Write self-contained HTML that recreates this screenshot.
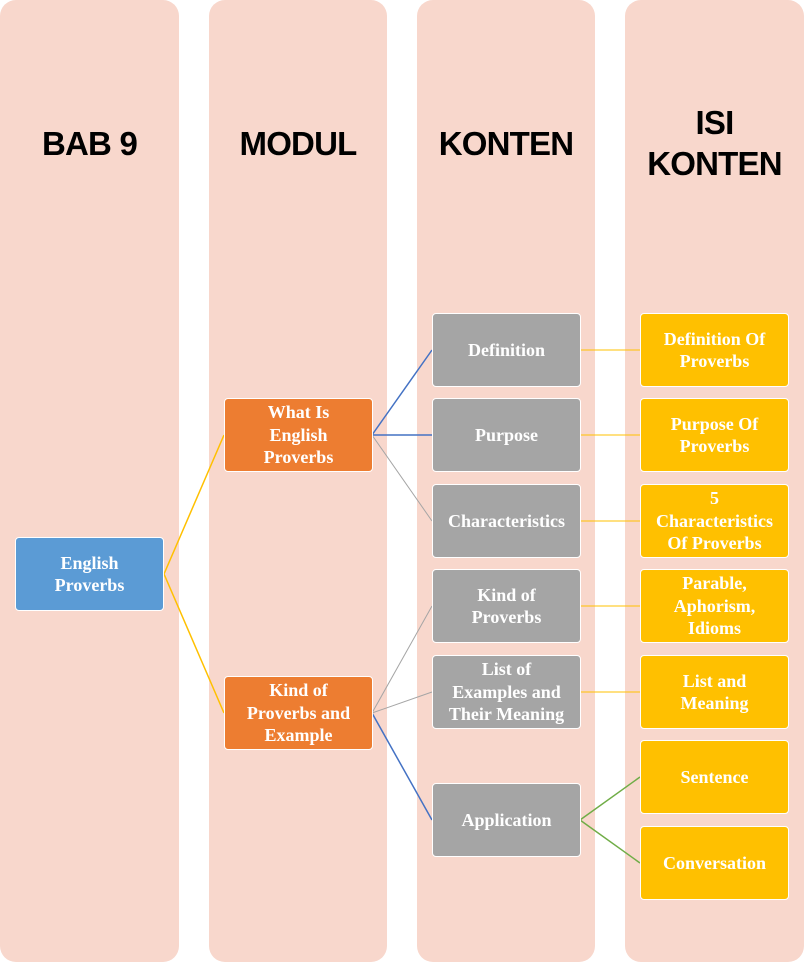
<!DOCTYPE html>
<html><head><meta charset="utf-8"><style>
body{margin:0;width:806px;height:962px;background:#fff;position:relative;overflow:hidden;font-family:"Liberation Serif",serif}
.col{position:absolute;top:0;height:962px;background:#f8d7cc;border-radius:16px}
.h{position:absolute;font-family:"Liberation Sans",sans-serif;font-weight:bold;font-size:33px;letter-spacing:-0.8px;color:#000;text-align:center;line-height:41px}
.b{position:absolute;box-sizing:border-box;border:1px solid #fff;border-radius:4px;color:#fff;font-weight:bold;font-size:18px;line-height:22.5px;display:flex;align-items:center;justify-content:center;text-align:center;width:149px;height:74px}
.bl{background:#5b9bd5}.or{background:#ed7d31}.gr{background:#a5a5a5}.ye{background:#ffc000}
svg{position:absolute;left:0;top:0}
</style></head><body>
<div class="col" style="left:0;width:179px"></div>
<div class="col" style="left:209px;width:178px"></div>
<div class="col" style="left:417px;width:178px"></div>
<div class="col" style="left:625px;width:179px"></div>
<div class="h" style="left:0;width:179px;top:123px">BAB 9</div>
<div class="h" style="left:209px;width:178px;top:123px">MODUL</div>
<div class="h" style="left:417px;width:178px;top:123px">KONTEN</div>
<div class="h" style="left:625px;width:179px;top:102px">ISI<br>KONTEN</div>
<svg width="806" height="962">
<g fill="none" stroke-width="1.5">
<path d="M164 574L224 435M164 574L224 713" stroke="#ffc000"/>
<path d="M372 435L432 350M372 435L432 435M372 713L432 820" stroke="#4472c4"/>
<path d="M372 435L432 521M372 713L432 606M372 713L432 692" stroke="#a5a5a5" stroke-width="1"/>
<path d="M580 350H640M580 435H640M580 521H640M580 606H640M580 692H640" stroke="#ffc000" stroke-width="1"/>
<path d="M580 820L640 777M580 820L640 863" stroke="#70ad47"/>
</g></svg>
<div class="b bl" style="left:15px;top:537px">English<br>Proverbs</div>
<div class="b or" style="left:224px;top:398px">What Is<br>English<br>Proverbs</div>
<div class="b or" style="left:224px;top:676px">Kind of<br>Proverbs and<br>Example</div>
<div class="b gr" style="left:432px;top:313px">Definition</div>
<div class="b gr" style="left:432px;top:398px">Purpose</div>
<div class="b gr" style="left:432px;top:484px">Characteristics</div>
<div class="b gr" style="left:432px;top:569px">Kind of<br>Proverbs</div>
<div class="b gr" style="left:432px;top:655px">List of<br>Examples and<br>Their Meaning</div>
<div class="b gr" style="left:432px;top:783px">Application</div>
<div class="b ye" style="left:640px;top:313px">Definition Of<br>Proverbs</div>
<div class="b ye" style="left:640px;top:398px">Purpose Of<br>Proverbs</div>
<div class="b ye" style="left:640px;top:484px">5<br>Characteristics<br>Of Proverbs</div>
<div class="b ye" style="left:640px;top:569px">Parable,<br>Aphorism,<br>Idioms</div>
<div class="b ye" style="left:640px;top:655px">List and<br>Meaning</div>
<div class="b ye" style="left:640px;top:740px">Sentence</div>
<div class="b ye" style="left:640px;top:826px">Conversation</div>
</body></html>
